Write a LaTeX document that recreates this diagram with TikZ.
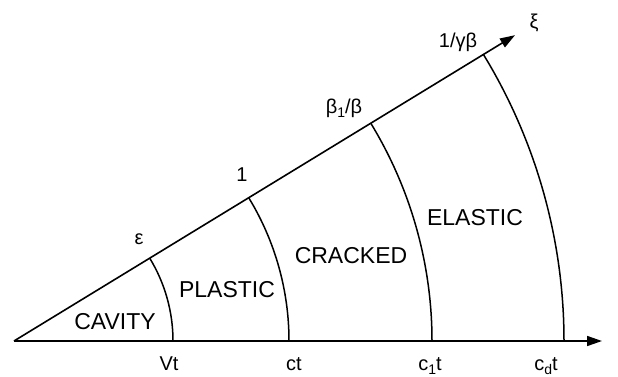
\documentclass[tikz,border=0pt]{standalone}
\usepackage{fontspec}
\setmainfont{Liberation Sans}
\usetikzlibrary{arrows.meta,calc}
\newcommand{\mysub}[1]{\raisebox{-0.2em}{\fontsize{14}{14}\selectfont #1}}
\begin{document}
\begin{tikzpicture}[x=1pt,y=1pt,
  axis/.style={line width=1.6pt,-{Triangle[length=15pt,width=10pt]}},
  front/.style={line width=1.5pt},
  region/.style={font=\fontsize{23}{24}\selectfont,inner sep=0pt},
  lab/.style={font=\fontsize{20}{22}\selectfont,inner sep=0pt}]
\useasboundingbox (0,0) rectangle (618,376);
\def\ang{31.4}
\coordinate (O) at (14,35);
\coordinate (X) at (602,35);
\coordinate (Xi) at ($(O)+(\ang:587)$);
\draw[axis] (O) -- (X);
\draw[axis] (O) -- (Xi);
\foreach \r/\n in {159/a,275/b,418/c,550/d}{
  \coordinate (\n0) at ($(O)+(\r,0)$);
  \draw[front] (\n0) arc[start angle=0,end angle=\ang,radius=\r];
}
\node[lab,anchor=base] (vt) at (169,6) {Vt};
\node[lab,anchor=base] (ct) at (294,6) {ct};
\node[lab,anchor=base] (c1t) at (430,6) {c\mysub{1}t};
\node[lab,anchor=base] (cdt) at (546,6) {c\mysub{d}t};
\node[lab] (eps) at (139,137) {ε};
\node[lab] (one) at (242,201) {1};
\node[lab] (b1b) at (344,268) {β\mysub{1}/β};
\node[lab] (gb) at (458,334) {1/γβ};
\node[lab] (xi) at (534,353) {ξ};
\node[region] (cav) at (115,54) {CAVITY};
\node[region] (pla) at (227,86) {PLASTIC};
\node[region] (cra) at (351,120) {CRACKED};
\node[region] (ela) at (475,158) {ELASTIC};
\end{tikzpicture}
\end{document}
